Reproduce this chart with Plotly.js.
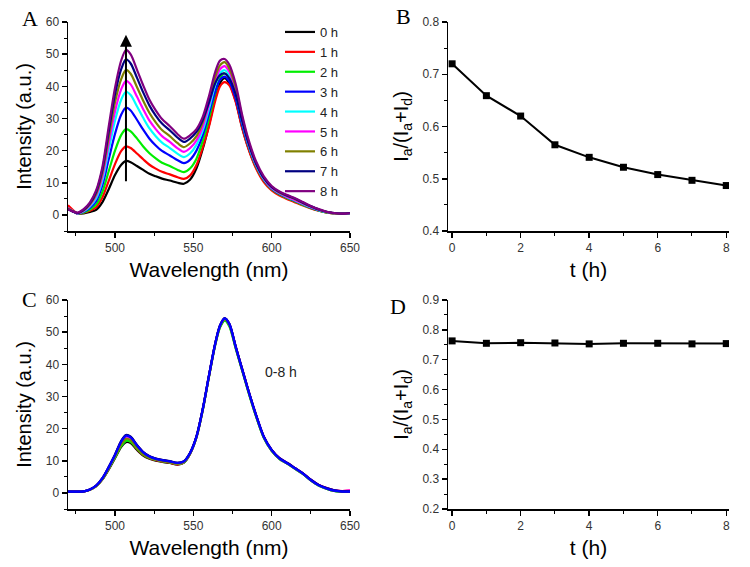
<!DOCTYPE html>
<html>
<head>
<meta charset="utf-8">
<script src="https://cdn.plot.ly/plotly-3.0.1.min.js"></script>
<style>html,body{margin:0;padding:0;background:#fff;}#chart{width:750px;height:567px;}</style>
</head>
<body>
<div id="chart"></div>
<script>
// ---------- data ----------
const wavelength = [470,473,476,480,484,488,492,496,500,504,507,510,514,518,522,526,530,535,540,544,548,552,556,560,564,567,570,573,577,581,585,590,595,600,605,610,615,620,625,630,635,640,645,650];

const hourLabels = ["0 h","1 h","2 h","3 h","4 h","5 h","6 h","7 h","8 h"];
const hourColors = ["#000000","#ff0000","#00ee00","#0000ff","#00ffff","#ff00ff","#808000","#000080","#800080"];

// Panel A: spectra, 0-8 h
const specA_0h = [2.2,1.2,0.4,0.5,0.9,1.6,4.0,8.0,12.4,15.6,16.8,16.4,15.2,14.0,12.8,12.0,11.3,10.7,10.0,9.7,11.0,14.5,20.5,28.0,36.5,41.0,42.5,40.8,35.5,27.5,21.0,14.8,10.6,8.0,6.4,5.3,4.2,3.2,2.2,1.4,0.8,0.5,0.4,0.6];
const specA_1h = [3.0,1.6,0.4,0.7,1.3,2.4,5.5,10.6,15.8,19.9,21.3,20.8,19.1,17.3,15.6,14.4,13.4,12.6,11.7,11.2,12.3,15.5,21.0,27.5,35.5,40.0,41.3,40.3,35.2,27.3,20.8,14.5,10.2,7.6,6.0,4.9,3.9,2.9,2.0,1.3,0.8,0.5,0.5,0.6];
const specA_2h = [2.0,1.2,0.4,0.8,1.7,3.2,7.2,13.6,20.0,24.9,26.7,26.0,23.8,21.3,19.2,17.6,16.2,15.2,14.0,13.3,14.5,17.5,23.0,30.0,38.0,42.5,44.0,42.3,36.8,28.5,21.7,15.2,10.8,8.0,6.4,5.2,4.2,3.1,2.2,1.4,0.8,0.5,0.4,0.5];
const specA_3h = [1.8,1.1,0.5,1.0,2.2,4.3,9.3,17.3,25.2,31.2,33.4,32.5,29.6,26.5,23.7,21.6,19.9,18.5,17.0,16.1,17.2,20.0,24.8,31.5,38.5,42.0,43.0,41.5,36.3,28.3,21.8,15.4,11.0,8.2,6.6,5.4,4.4,3.3,2.3,1.5,0.9,0.5,0.4,0.6];
const specA_4h = [2.0,1.2,0.5,1.1,2.6,5.2,10.8,20.2,29.3,35.9,38.3,37.3,33.8,30.2,26.9,24.5,22.5,20.8,19.0,18.0,19.2,21.8,26.3,33.0,40.5,44.0,45.0,43.3,37.8,29.3,22.2,15.6,11.1,8.3,6.7,5.5,4.5,3.4,2.4,1.5,0.9,0.5,0.4,0.5];
const specA_5h = [2.2,1.3,0.5,1.3,3.0,6.0,12.0,22.2,32.2,39.1,41.7,40.6,36.8,32.9,29.3,26.7,24.5,22.7,20.7,19.6,20.8,23.2,27.5,34.3,41.8,45.3,46.3,44.5,38.8,30.0,22.6,15.8,11.3,8.4,6.8,5.6,4.6,3.5,2.5,1.6,0.9,0.5,0.4,0.6];
const specA_6h = [2.0,1.2,0.6,1.4,3.3,6.6,13.2,24.2,35.0,42.3,45.1,43.9,39.8,35.5,31.7,28.8,26.4,24.5,22.3,21.1,22.3,24.5,28.8,35.5,43.0,46.5,47.5,45.5,39.8,30.8,23.2,16.2,11.6,8.7,7.0,5.9,4.9,3.7,2.6,1.7,1.0,0.5,0.4,0.6];
const specA_7h = [1.8,1.1,0.6,1.6,3.6,7.2,14.2,26.0,37.5,45.4,48.4,47.1,42.7,38.1,34.0,30.9,28.4,26.3,24.0,22.7,23.8,25.8,29.5,35.0,41.0,43.5,44.0,42.5,37.5,29.5,22.6,16.0,11.5,8.7,7.1,6.0,5.0,3.8,2.7,1.7,1.0,0.6,0.4,0.6];
const specA_8h = [1.8,1.1,0.7,1.8,3.9,7.7,15.0,27.5,39.5,48.1,51.3,49.9,45.2,40.3,35.8,32.5,29.8,27.6,25.1,23.7,24.8,26.7,30.5,37.0,44.5,48.0,48.5,46.7,40.8,31.5,23.8,16.7,12.0,9.0,7.3,6.2,5.2,4.0,2.8,1.8,1.0,0.6,0.4,0.5];

// Panel C: spectra, 0-8 h (control)
const specC_0h = [0.4,0.4,0.4,0.5,1.0,2.1,4.2,7.3,10.8,14.3,15.8,15.5,13.4,11.6,10.6,10.0,9.7,9.3,8.8,9.4,12.2,17.3,25.8,36.3,46.3,51.6,53.8,52.1,45.2,38.5,31.8,24.0,17.3,13.2,10.6,9.1,7.5,5.9,3.9,2.3,1.3,0.6,0.3,0.3];
const specC_1h = [0.4,0.4,0.4,0.5,1.0,2.1,4.3,7.5,11.1,14.7,16.3,15.9,13.7,11.8,10.8,10.2,9.8,9.4,8.9,9.5,12.3,17.4,25.9,36.4,46.4,51.8,54.0,52.3,45.4,38.6,31.9,24.1,17.3,13.2,10.7,9.2,7.6,6.0,4.0,2.5,1.5,0.8,0.6,0.7];
const specC_2h = [0.4,0.4,0.4,0.5,1.0,2.1,4.3,7.5,11.0,14.6,16.2,15.9,13.8,11.9,10.9,10.3,9.9,9.5,9.0,9.5,12.3,17.3,25.7,36.2,46.0,51.4,53.6,51.8,45.0,38.3,31.6,23.8,17.1,13.1,10.6,9.1,7.5,5.9,3.9,2.3,1.3,0.6,0.4,0.4];
const specC_3h = [0.4,0.4,0.4,0.5,1.1,2.3,4.6,8.0,11.8,16.0,17.8,17.3,14.8,12.6,11.3,10.6,10.2,9.8,9.3,9.8,12.5,17.5,26.0,36.5,46.5,52.0,54.3,52.5,45.5,38.7,32.0,24.2,17.4,13.3,10.7,9.2,7.6,6.0,4.0,2.4,1.4,0.7,0.4,0.4];
const specC_4h = [0.4,0.4,0.4,0.5,1.1,2.2,4.5,7.8,11.5,15.4,17.0,16.6,14.3,12.3,11.1,10.4,10.0,9.6,9.1,9.6,12.4,17.4,25.9,36.4,46.4,51.9,54.1,52.4,45.4,38.6,31.9,24.1,17.3,13.2,10.6,9.1,7.5,5.9,3.9,2.3,1.3,0.6,0.4,0.4];
const specC_5h = [0.4,0.4,0.4,0.5,1.1,2.2,4.5,7.9,11.6,15.7,17.5,17.0,14.6,12.5,11.2,10.5,10.1,9.7,9.2,9.7,12.4,17.5,26.0,36.5,46.5,52.0,54.2,52.5,45.6,38.8,32.1,24.3,17.5,13.4,10.8,9.3,7.7,6.1,4.1,2.5,1.5,0.8,0.6,0.8];
const specC_6h = [0.4,0.4,0.4,0.5,1.1,2.2,4.4,7.7,11.3,15.1,16.8,16.4,14.1,12.1,11.0,10.3,9.9,9.5,9.0,9.6,12.4,17.4,25.9,36.3,46.3,51.8,54.0,52.3,45.4,38.6,31.9,24.1,17.3,13.2,10.6,9.1,7.5,5.9,3.9,2.3,1.3,0.6,0.4,0.4];
const specC_7h = [0.4,0.4,0.4,0.5,1.1,2.3,4.6,8.1,11.9,16.2,18.0,17.5,14.9,12.7,11.4,10.7,10.3,9.9,9.4,9.9,12.6,17.6,26.1,36.6,46.6,52.1,54.4,52.6,45.6,38.8,32.1,24.3,17.5,13.4,10.8,9.3,7.7,6.1,4.1,2.5,1.5,0.8,0.5,0.5];
const specC_8h = [0.4,0.4,0.4,0.5,1.1,2.3,4.6,8.0,11.9,16.1,17.9,17.4,14.9,12.7,11.4,10.7,10.2,9.8,9.3,9.8,12.5,17.5,26.0,36.5,46.5,52.0,54.3,52.5,45.6,38.8,32.1,24.3,17.5,13.4,10.8,9.3,7.7,6.1,4.1,2.5,1.5,0.8,0.5,0.5];

// Panels B and D: ratio vs time
const timeH = [0,1,2,3,4,5,6,7,8];
const ratioB = [0.720,0.659,0.620,0.565,0.541,0.522,0.508,0.497,0.487];
const ratioD = [0.763,0.755,0.757,0.756,0.753,0.755,0.755,0.753,0.754];

// Arrow in panel A (wavelength, from intensity, to intensity)
const arrowWavelength = 507;
const arrowFrom = 10;
const arrowTo = 56;

// ---------- build ----------
const specA = [specA_0h,specA_1h,specA_2h,specA_3h,specA_4h,specA_5h,specA_6h,specA_7h,specA_8h];
const specC = [specC_0h,specC_1h,specC_2h,specC_3h,specC_4h,specC_5h,specC_6h,specC_7h,specC_8h];
const drawOrderC = [0,1,2,4,5,6,8,7,3];

const FONT = "'Liberation Sans', Arial, sans-serif";
const SERIF = "'Liberation Serif', 'Times New Roman', serif";

const traces = [];
specA.forEach((ys, i) => {
  traces.push({
    x: wavelength, y: ys, type: 'scatter', mode: 'lines',
    name: hourLabels[i], xaxis: 'x', yaxis: 'y',
    line: {color: hourColors[i], width: 2.2, shape: 'spline', smoothing: 0.8},
    showlegend: true
  });
});
drawOrderC.forEach(i => {
  traces.push({
    x: wavelength, y: specC[i], type: 'scatter', mode: 'lines',
    name: hourLabels[i], xaxis: 'x3', yaxis: 'y3',
    line: {color: hourColors[i], width: 2.2, shape: 'spline', smoothing: 0.8},
    showlegend: false
  });
});
traces.push({
  x: timeH, y: ratioB, type: 'scatter', mode: 'lines+markers',
  xaxis: 'x2', yaxis: 'y2', showlegend: false,
  line: {color: '#000', width: 2},
  marker: {symbol: 'square', size: 7, color: '#000'}
});
traces.push({
  x: timeH, y: ratioD, type: 'scatter', mode: 'lines+markers',
  xaxis: 'x4', yaxis: 'y4', showlegend: false,
  line: {color: '#000', width: 2},
  marker: {symbol: 'square', size: 7, color: '#000'}
});

const W = 750, H = 567;
function xd(a, b) { return [a / W, b / W]; }
function yd(top, bottom) { return [(H - bottom) / H, (H - top) / H]; }

function axisBase(extra) {
  return Object.assign({
    showline: true, linecolor: '#000', linewidth: 1.5,
    ticks: 'outside', ticklen: 5, tickwidth: 1.5, tickcolor: '#000',
    showgrid: false, zeroline: false, mirror: false,
    tickfont: {family: FONT, size: 12, color: '#333'},
    automargin: false, fixedrange: true
  }, extra);
}

const xTitleFont = {family: FONT, size: 21, color: '#000'};
const yTitleFont = {family: FONT, size: 20, color: '#000'};
const ratioTitle = 'I<sub>a</sub>/(I<sub>a</sub>+I<sub>d</sub>)';
const minorTicks = (d, t0) => ({ticks: 'outside', ticklen: 3, tickwidth: 1, tickcolor: '#000', dtick: d, tick0: t0, showgrid: false});

const layout = {
  width: W, height: H,
  margin: {l: 0, r: 0, t: 0, b: 0},
  paper_bgcolor: '#fff', plot_bgcolor: '#fff',
  showlegend: true,
  legend: {
    x: 280 / W, y: 1 - 17 / H, xanchor: 'left', yanchor: 'top',
    font: {family: FONT, size: 13, color: '#222'},
    bgcolor: 'rgba(0,0,0,0)', borderwidth: 0, tracegroupgap: 0
  },
  xaxis: axisBase({domain: xd(68, 350), anchor: 'y', range: [470, 650], tick0: 500, dtick: 50,
    minor: minorTicks(25, 475),
    title: {text: 'Wavelength (nm)', font: xTitleFont, standoff: 8}}),
  yaxis: axisBase({domain: yd(22, 231), anchor: 'x', range: [-5, 60], tick0: 0, dtick: 10,
    minor: minorTicks(5, 0),
    title: {text: 'Intensity (a.u.)', font: yTitleFont, standoff: 8}}),
  xaxis2: axisBase({domain: xd(448, 729), anchor: 'y2', range: [-0.12, 8.08], tick0: 0, dtick: 2,
    minor: minorTicks(1, 0),
    title: {text: 't (h)', font: xTitleFont, standoff: 8}}),
  yaxis2: axisBase({domain: yd(22, 231), anchor: 'x2', range: [0.4, 0.8], tick0: 0.4, dtick: 0.1,
    minor: minorTicks(0.05, 0.4),
    title: {text: ratioTitle, font: yTitleFont, standoff: 8}}),
  xaxis3: axisBase({domain: xd(68, 350), anchor: 'y3', range: [470, 650], tick0: 500, dtick: 50,
    minor: minorTicks(25, 475),
    title: {text: 'Wavelength (nm)', font: xTitleFont, standoff: 8}}),
  yaxis3: axisBase({domain: yd(300, 509), anchor: 'x3', range: [-5, 60], tick0: 0, dtick: 10,
    minor: minorTicks(5, 0),
    title: {text: 'Intensity (a.u.)', font: yTitleFont, standoff: 8}}),
  xaxis4: axisBase({domain: xd(448, 729), anchor: 'y4', range: [-0.12, 8.08], tick0: 0, dtick: 2,
    minor: minorTicks(1, 0),
    title: {text: 't (h)', font: xTitleFont, standoff: 8}}),
  yaxis4: axisBase({domain: yd(300, 509), anchor: 'x4', range: [0.2, 0.9], tick0: 0.2, dtick: 0.1,
    minor: minorTicks(0.05, 0.2),
    title: {text: ratioTitle, font: yTitleFont, standoff: 8}}),
  annotations: [
    {xref: 'x', yref: 'y', axref: 'x', ayref: 'y', x: arrowWavelength, y: arrowTo,
     ax: arrowWavelength, ay: arrowFrom, text: '', showarrow: true,
     arrowhead: 2, arrowsize: 1.2, arrowwidth: 2, arrowcolor: '#000'},
    {xref: 'x3', yref: 'y3', x: 606, y: 37.5, text: '0-8 h', showarrow: false,
     xanchor: 'center', yanchor: 'middle',
     font: {family: FONT, size: 14, color: '#222'}},
    {xref: 'paper', yref: 'paper', x: 30 / W, y: 1 - 18 / H, text: 'A', showarrow: false,
     xanchor: 'center', yanchor: 'middle', font: {family: SERIF, size: 22, color: '#000'}},
    {xref: 'paper', yref: 'paper', x: 404 / W, y: 1 - 17 / H, text: 'B', showarrow: false,
     xanchor: 'center', yanchor: 'middle', font: {family: SERIF, size: 22, color: '#000'}},
    {xref: 'paper', yref: 'paper', x: 29 / W, y: 1 - 299 / H, text: 'C', showarrow: false,
     xanchor: 'center', yanchor: 'middle', font: {family: SERIF, size: 22, color: '#000'}},
    {xref: 'paper', yref: 'paper', x: 398 / W, y: 1 - 306 / H, text: 'D', showarrow: false,
     xanchor: 'center', yanchor: 'middle', font: {family: SERIF, size: 22, color: '#000'}}
  ]
};

Plotly.newPlot('chart', traces, layout, {staticPlot: true, displayModeBar: false});
</script>
</body>
</html>
